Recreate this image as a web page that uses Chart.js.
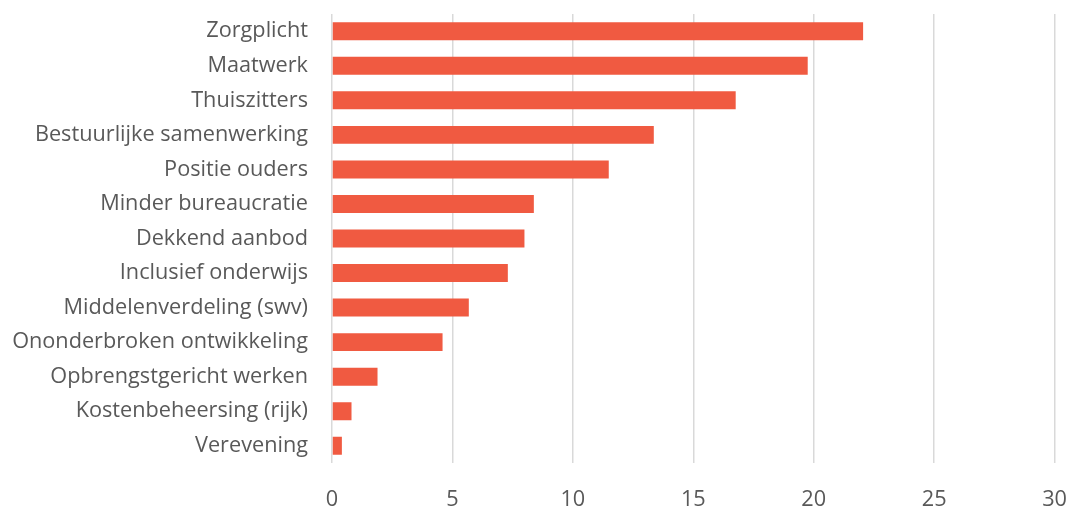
<!DOCTYPE html>
<html lang="nl">
<head>
    <meta charset="UTF-8">
    <title>Thema's</title>
    <script src="https://cdn.jsdelivr.net/npm/chart.js"></script>
    <style>
        body { margin: 0; background: #fff; }
        #wrap { width: 1067px; height: 508px; }
    </style>
</head>
<body>
    <div id="wrap"><canvas id="chart"></canvas></div>

    <script>
        const categories = [
            'Zorgplicht', 'Maatwerk', 'Thuiszitters', 'Bestuurlijke samenwerking',
            'Positie ouders', 'Minder bureaucratie', 'Dekkend aanbod', 'Inclusief onderwijs',
            'Middelenverdeling (swv)', 'Ononderbroken ontwikkeling', 'Opbrengstgericht werken',
            'Kostenbeheersing (rijk)', 'Verevening'
        ];
        const values = [22.05, 19.75, 16.76, 13.36, 11.49, 8.38, 7.99, 7.30, 5.68, 4.59, 1.89, 0.81, 0.41];
        const xTicks = [0, 5, 10, 15, 20, 25, 30];

        const labelFont = { family: 'Open Sans', size: 21.7 };

        const ctx = document.getElementById('chart').getContext('2d');
        const chart = new Chart(ctx, {
            type: 'bar',
            data: {
                labels: categories,
                datasets: [{
                    data: values,
                    backgroundColor: '#f05a41',
                    borderWidth: 0,
                    categoryPercentage: 1,
                    barPercentage: 0.52
                }]
            },
            options: {
                indexAxis: 'y',
                responsive: true,
                maintainAspectRatio: false,
                animation: false,
                layout: { padding: { top: 14, right: 12, bottom: 0, left: 0 } },
                plugins: { legend: { display: false }, tooltip: { enabled: false } },
                scales: {
                    x: {
                        min: xTicks[0],
                        max: xTicks[xTicks.length - 1],
                        afterBuildTicks: (axis) => { axis.ticks = xTicks.map(v => ({ value: v })); },
                        afterFit: (axis) => { axis.height = 45; },
                        // tick marks kept invisible, their length sets the label gap
                        grid: { color: '#d9d9d9', lineWidth: 1.5, drawTicks: true, tickLength: 24, tickColor: 'rgba(0,0,0,0)' },
                        border: { display: false },
                        ticks: { color: '#595959', font: labelFont, padding: 0 }
                    },
                    y: {
                        grid: { drawOnChartArea: false, drawTicks: true, tickLength: 24, tickColor: 'rgba(0,0,0,0)' },
                        border: { display: false },
                        afterFit: (axis) => { axis.width = 332; },
                        ticks: { color: '#595959', font: labelFont, padding: 0 }
                    }
                }
            }
        });
    </script>
</body>
</html>
